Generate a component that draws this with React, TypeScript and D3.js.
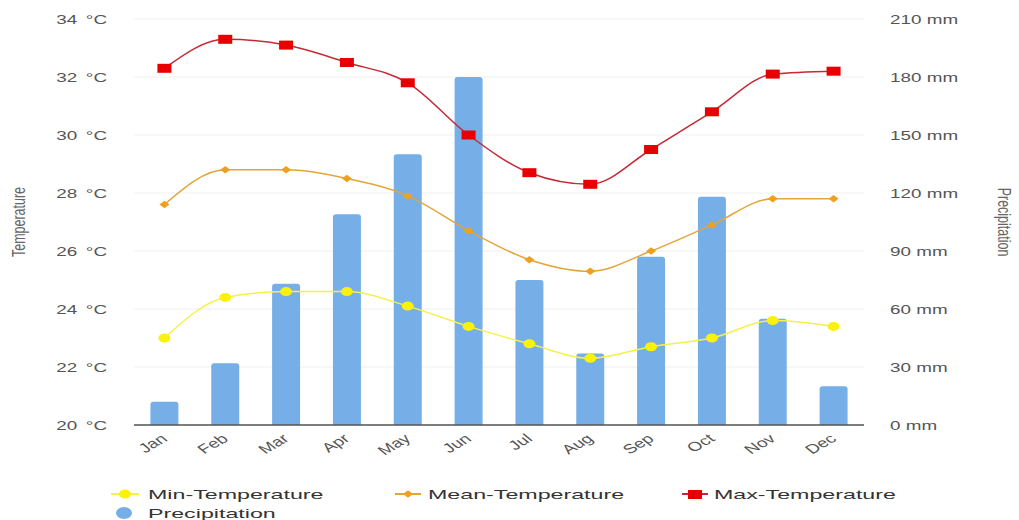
import React from "react";
import * as d3 from "d3";

const months = ["Jan", "Feb", "Mar", "Apr", "May", "Jun", "Jul", "Aug", "Sep", "Oct", "Nov", "Dec"];
const minTemp = [23.0, 24.4, 24.6, 24.6, 24.1, 23.4, 22.8, 22.3, 22.7, 23.0, 23.6, 23.4];
const meanTemp = [27.6, 28.8, 28.8, 28.5, 27.9, 26.7, 25.7, 25.3, 26.0, 26.9, 27.8, 27.8];
const maxTemp = [32.3, 33.3, 33.1, 32.5, 31.8, 30.0, 28.7, 28.3, 29.5, 30.8, 32.1, 32.2];
const precipitation = [12, 32, 73, 109, 140, 180, 75, 37, 87, 118, 55, 20];
const tempTicks = [20, 22, 24, 26, 28, 30, 32, 34];
const precTicks = [0, 30, 60, 90, 120, 150, 180, 210];

const W = 1019, H = 520;
const left = 134, right = 864, top = 19, bottom = 425;
const FONT = "'Liberation Sans', Arial, sans-serif";
const SX = 1.45; // horizontal stretch of text seen in the reference
const SXL = 1.72; // legend text stretch

export default function App() {
  const x = d3.scaleBand<string>().domain(months).range([left, right]).paddingInner(0.54).paddingOuter(0.27);
  const xc = d3.scalePoint<string>().domain(months).range([left, right]).padding(0.5);
  const yT = d3.scaleLinear().domain([20, 34]).range([bottom, top]);
  const yP = d3.scaleLinear().domain([0, 210]).range([bottom, top]);
  const line = (vals: number[]) =>
    d3.line<number>().x((_, i) => xc(months[i])!).y((v) => yT(v)).curve(d3.curveMonotoneX)(vals) || "";

  const barPath = (xs: number, w: number, yt: number, yb: number, r: number) => {
    r = Math.min(r, yb - yt);
    return `M${xs},${yb}V${yt + r}Q${xs},${yt} ${xs + r},${yt}H${xs + w - r}Q${xs + w},${yt} ${xs + w},${yt + r}V${yb}Z`;
  };

  const diamond = (cx: number, cy: number, s: number) =>
    `M${cx - s},${cy}L${cx},${cy - s * 0.75}L${cx + s},${cy}L${cx},${cy + s * 0.75}Z`;

  return (
    <svg width={W} height={H} style={{ display: "block", position: "absolute", left: 0, top: 0, background: "#fff" }} fontFamily={FONT}>
      {tempTicks.map((t) => (
        <g key={t}>
          <line x1={left} x2={right} y1={yT(t)} y2={yT(t)} stroke="#efefef" strokeWidth={1} />
          <text transform={`translate(107,${yT(t)}) scale(${SX},1)`} dy="0.35em" textAnchor="end" fontSize={13} fill="#555">
            {`${t}`}
            <tspan dx={6}>°C</tspan>
          </text>
        </g>
      ))}
      {precTicks.map((t) => (
        <text key={t} transform={`translate(890,${yP(t)}) scale(${SX},1)`} dy="0.35em" textAnchor="start" fontSize={13} fill="#555">{`${t} mm`}</text>
      ))}
      <text transform={`translate(25,222) scale(${SX},1) rotate(-90)`} textAnchor="middle" fontSize={12.5} fill="#666">Temperature</text>
      <text transform={`translate(998,222) scale(${SX},1) rotate(90)`} textAnchor="middle" fontSize={12.5} fill="#666">Precipitation</text>

      {precipitation.map((p, i) => (
        <path key={i} d={barPath(x(months[i])!, x.bandwidth(), yP(p), bottom, 3)} fill="#76aee8" />
      ))}
      <line x1={left} x2={right} y1={bottom} y2={bottom} stroke="#555" strokeWidth={1.5} />

      {months.map((m) => (
        <text key={m} transform={`translate(${xc(m)! + 4},${bottom + 15}) scale(${SX},1) rotate(-40)`} textAnchor="end" fontSize={13} fill="#555">{m}</text>
      ))}

      <path d={line(minTemp)} fill="none" stroke="#f2f24a" strokeWidth={1.5} />
      <path d={line(meanTemp)} fill="none" stroke="#e3a53a" strokeWidth={1.5} />
      <path d={line(maxTemp)} fill="none" stroke="#c42a35" strokeWidth={1.5} />

      {minTemp.map((v, i) => (
        <ellipse key={i} cx={xc(months[i])!} cy={yT(v)} rx={6} ry={4.5} fill="#fbf20b" />
      ))}
      {meanTemp.map((v, i) => (
        <path key={i} d={diamond(xc(months[i])!, yT(v), 5)} fill="#f0a020" />
      ))}
      {maxTemp.map((v, i) => (
        <rect key={i} x={xc(months[i])! - 7} y={yT(v) - 4.5} width={14} height={9} fill="#e80000" />
      ))}

      {/* Legend */}
      <g fontSize={13.5} fill="#333">
        <line x1={111} x2={139} y1={494} y2={494} stroke="#f2f24a" strokeWidth={2} />
        <ellipse cx={125} cy={494} rx={6} ry={4.5} fill="#fbf20b" />
        <text transform={`translate(148,494) scale(${SXL},1)`} dy="0.35em">Min-Temperature</text>
        <line x1={395} x2={421} y1={494} y2={494} stroke="#e3a53a" strokeWidth={2} />
        <path d={diamond(408, 494, 5)} fill="#f0a020" />
        <text transform={`translate(428,494) scale(${SXL},1)`} dy="0.35em">Mean-Temperature</text>
        <line x1={682} x2={708} y1={494} y2={494} stroke="#c42a35" strokeWidth={2} />
        <rect x={688} y={490} width={14} height={9} fill="#e80000" />
        <text transform={`translate(714,494) scale(${SXL},1)`} dy="0.35em">Max-Temperature</text>
        <ellipse cx={124} cy={513} rx={8} ry={6} fill="#76aee8" />
        <text transform={`translate(148,513) scale(${SXL},1)`} dy="0.35em">Precipitation</text>
      </g>
    </svg>
  );
}
